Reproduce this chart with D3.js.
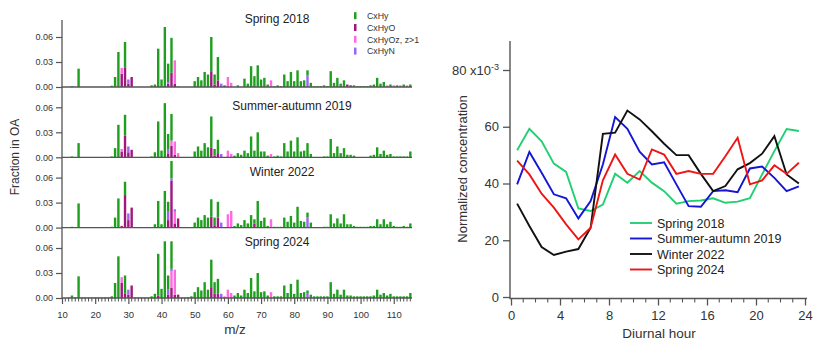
<!DOCTYPE html>
<html>
<head>
<meta charset="utf-8">
<script src="https://cdn.jsdelivr.net/npm/d3@7"></script>
<style>
  html, body { margin: 0; padding: 0; background: #fff; }
  svg { display: block; font-family: "Liberation Sans", Arial, sans-serif; }
</style>
</head>
<body>
<svg id="chart" width="813" height="341"></svg>
<script>
// ---------------- DATA ----------------
// Left: mass spectra. Rows: [m/z, CxHy, CxHyO, CxHyOz (z>1), CxHyN]
const familyNames = ["CxHyO", "CxHyOz, z>1", "CxHyN", "CxHy"]; // stacking order bottom -> top
const legendNames = ["CxHy", "CxHyO", "CxHyOz, z>1", "CxHyN"];
const panelTitles = ["Spring 2018", "Summer-autumn 2019", "Winter 2022", "Spring 2024"];

const spring2018Spec = [
  [13,.001],[15,.022],[25,.0015],[26,.012],[27,.042],[28,0,.016,.007],[29,.031,.023],[30,0,.004,0,.005],[31,0,.012],
  [37,.002],[38,.003],[39,.046],[40,.009],[41,.072],[42,.022,.004,0,.002],[43,.042,.017],[44,0,.004,.028],[45,0,0,.001],
  [50,.007],[51,.012],[52,.008],[53,.018],[54,.015],[55,.041,.019],[56,.012,.003],[57,.028,.008],[58,0,0,0,.004],[59,.001,.001],
  [60,0,0,.012],[61,0,0,.005],[63,.002],[65,.010],[66,.004],[67,.025],[68,.013],[69,.026],[70,.009],[71,.011],[72,.003],
  [73,0,0,.008],[74,.001],[75,.002],[76,.001],[77,.015],[78,.007],[79,.018],[80,.007],[81,.020],[82,.007],[83,.008],
  [84,.006,0,0,.014],[85,.005],[86,.001],[87,.001],[88,.001],[89,.002],[90,.001],[91,.019],[92,.005],[93,.011],[94,.004],
  [95,.008],[96,0,.003],[97,0,.002],[98,.002],[99,.001],[100,.001],[101,.001],[102,.001],[103,.002],[104,.003],[105,.011],
  [106,.004],[107,.006],[108,0,0,.002],[109,.003],[110,0,0,.002],[111,.002],[112,0,0,.002],[113,.003],[114,0,0,.002],[115,.003]
];
const summerAutumn2019Spec = [
  [13,.001],[15,.017],[25,.001],[26,.011],[27,.039],[28,0,.007,.003],[29,.025,.026],[30,0,.006,0,.007],[31,0,.009],
  [37,.001],[38,.006],[39,.043],[40,.008],[41,.065],[42,.018,.004,0,.006],[43,.032,.014,.006],[44,0,.003,.016],[45,0,0,.005],
  [50,.007],[51,.013],[52,.008],[53,.017],[54,.012],[55,.037,.012],[56,.008,.002],[57,.016,.005],[58,0,0,0,.004],
  [60,0,0,.008],[61,0,0,.004],[62,.002],[63,.005],[64,.003],[65,.008],[66,.005],[67,.025],[68,.008],[69,.030],[70,.007],
  [71,.007],[72,.002],[73,0,0,.004],[74,.001],[75,.002],[76,.001],[77,.017],[78,.007],[79,.020],[80,.007],[81,.024],
  [82,.007],[83,.008],[84,.017],[85,.004],[89,.001],[90,.001],[91,.022],[92,.005],[93,.013],[94,.005],[95,.011],
  [96,.003],[97,.003],[98,.002],[103,.002],[104,.003],[105,.012],[106,.004],[107,.008],[108,.003],[109,.004],
  [110,.001],[111,.001],[112,.001],[113,.001],[114,.001],[115,.007]
];
const winter2022Spec = [
  [13,.001],[15,.029],[25,.001],[26,.012],[27,.035],[28,0,.002],[29,.016,.039],[30,0,.009,0,.008],[31,0,.024],
  [38,.004],[39,.032],[40,.004],[41,.044],[42,.012,.009,0,.010],[43,.021,.056,0,.003],[44,0,.005,.014,.003],[45,0,.011],
  [50,.006],[51,.012],[52,.009],[53,.015],[54,.012],[55,.021,.013],[56,.010,.002],[57,.019,.012],[58,0,0,0,.006],
  [60,0,0,.016],[61,0,0,.020],[62,.002],[63,.005],[64,.003],[65,.009],[66,.005],[67,.015],[68,.005,.005],[69,.032],
  [70,.008],[71,.012],[72,.002],[73,0,0,.010],[74,.001],[75,.001],[76,.001],[77,.012],[78,.007],[79,.014],[80,.006],
  [81,.025],[82,.008],[83,.007],[84,.006,0,0,.012],[85,.006],[89,.001],[90,.001],[91,.016],[92,.005],[93,.011],
  [94,.005],[95,.016],[96,.004],[97,.004],[98,.002],[99,.001],[100,.001],[101,.001],[102,.001],[103,.002],[104,.002],
  [105,.010],[106,.004],[107,.010],[108,.004],[109,.007],[110,.002],[111,.001],[112,.001],[113,.002],[114,.001],[115,.005]
];
const spring2024Spec = [
  [12,0,0,.001],[13,.003],[14,0,0,.001],[15,.026],[16,0,0,.001],[17,0,0,.001],[18,0,0,.001],[19,0,0,.001],[20,0,0,.001],
  [21,0,0,.001],[22,0,0,.001],[23,0,0,.001],[24,0,0,.001],[25,.002],[26,.018],[27,.050],[28,0,.018,.007],[29,.022,.005],
  [30,0,.004,0,.006],[31,0,.015],[32,0,0,.001],[33,0,0,.001],[34,0,0,.001],[35,0,0,.001],[36,0,0,.001],[37,.002],
  [38,.005],[39,.050,.003],[40,.011],[41,.068],[42,.017,.004,0,.006],[43,.033,.012,.020,.003],[44,0,.004,.030],
  [45,0,.004],[46,0,0,.001],[47,0,0,.001],[48,.001],[49,.002],[50,.007],[51,.013],[52,.009],[53,.019],[54,.010],
  [55,.033,.013],[56,.014,.005],[57,.018,.005],[58,0,0,0,.005],[59,0,0,.002],[60,0,0,.010],[61,0,0,.006],[62,.003],
  [63,.006],[64,.003],[65,.010],[66,.006],[67,.024],[68,.008],[69,.030],[70,.007],[71,.008],[72,.003],[73,0,0,.007],
  [74,.002],[75,.002],[76,.002],[77,.015],[78,.006],[79,.017],[80,.005],[81,.022],[82,.006],[83,.007],[84,.003,0,0,.006],
  [85,.004],[86,.002],[87,.002],[88,.002],[89,.002],[90,.002],[91,.019],[92,.005],[93,.010],[94,.004],[95,.010],
  [96,.003],[97,.003],[98,.002],[99,.002],[100,.002],[101,.002],[102,.002],[103,.002],[104,.003],[105,.010],[106,.004],
  [107,.006],[108,.003],[109,.005],[110,.002],[111,.002],[112,.002],[113,.002],[114,.002],[115,.006]
];
const spectra = [spring2018Spec, summerAutumn2019Spec, winter2022Spec, spring2024Spec];
const fracTicks = [0, 0.03, 0.06];
const mzTicks = [10, 20, 30, 40, 50, 60, 70, 80, 90, 100, 110];

// Right: diurnal cycles (normalized concentration, x10^-3), hours 0.5 ... 23.5
const hours = [0.5,1.5,2.5,3.5,4.5,5.5,6.5,7.5,8.5,9.5,10.5,11.5,12.5,13.5,14.5,15.5,16.5,17.5,18.5,19.5,20.5,21.5,22.5,23.5];
const spring2018Diurnal = [51.7,59.3,54.9,47.0,44.1,31.2,30.3,32.6,43.4,40.3,44.4,40.3,37.3,32.9,33.8,34.0,34.8,33.2,33.6,34.8,43.2,51.4,59.2,58.5];
const summerAutumn2019Diurnal = [39.7,51.1,43.8,36.2,34.8,27.7,33.8,46.7,63.4,59.3,51.2,46.7,47.5,39.7,32.0,31.8,37.3,37.6,36.9,45.3,46.0,42.0,37.3,39.0];
const winter2022Diurnal = [32.9,25.0,17.6,14.8,16.0,16.9,24.4,57.5,57.9,65.7,62.6,58.4,54.0,50.0,50.0,43.4,37.3,39.1,45.0,47.2,50.5,56.7,43.2,40.0];
const spring2024Diurnal = [48.1,43.2,36.4,31.5,25.6,20.3,24.4,41.1,50.2,43.4,41.4,52.0,50.2,43.4,44.4,43.4,43.4,49.6,56.1,39.7,41.1,46.4,43.4,47.3];
const diurnalNames = ["Spring 2018", "Summer-autumn 2019", "Winter 2022", "Spring 2024"];
const concTicks = [0, 20, 40, 60, 80];
const hourTicks = [0, 4, 8, 12, 16, 20, 24];

// ---------------- STYLE ----------------
const famColor = { "CxHy": "#1f9e1f", "CxHyO": "#a0177e", "CxHyOz, z>1": "#ff6ae0", "CxHyN": "#9a66f2" };
const lineColors = ["#21cf72", "#1515d6", "#111111", "#ee1515"];
const axisColor = "#555";
const textColor = "#333";

const svg = d3.select("#chart");

// ---------------- LEFT PANEL ----------------
const x = d3.scaleLinear().domain([10, 115.5]).range([62, 412]);
const bases = [87, 157.3, 227.6, 298];
const barW = 2.4;

spectra.forEach((rows, pi) => {
  const y = d3.scaleLinear().domain([0, 0.06]).range([bases[pi], bases[pi] - 50]);
  const g = svg.append("g");
  const table = rows.map(r => ({
    mz: r[0],
    "CxHy": r[1] || 0,
    "CxHyO": r[2] || 0,
    "CxHyOz, z>1": r[3] || 0,
    "CxHyN": r[4] || 0
  }));
  const stack = d3.stack().keys(familyNames)(table);
  stack.forEach(layer => {
    g.append("g").attr("fill", famColor[layer.key])
      .selectAll("rect").data(layer.filter(d => d[1] - d[0] > 0)).join("rect")
      .attr("x", d => x(d.data.mz) - barW / 2)
      .attr("width", barW)
      .attr("y", d => y(d[1]))
      .attr("height", d => Math.max(0.6, y(d[0]) - y(d[1])));
  });
  // baseline
  g.append("line").attr("x1", 62).attr("x2", 412).attr("y1", bases[pi]).attr("y2", bases[pi])
    .attr("stroke", axisColor).attr("stroke-width", 1.3);
  // y axis ticks
  const ya = g.append("g").attr("transform", "translate(62,0)")
    .call(d3.axisLeft(y).tickValues(fracTicks).tickFormat(d3.format(".2f")).tickSize(6).tickPadding(3));
  ya.select(".domain").remove();
  ya.selectAll("line").attr("stroke", axisColor).attr("stroke-width", 1.2);
  ya.selectAll("text").attr("fill", textColor).style("font-size", "9px");
  // title
  const titleY = [23, 110, 176, 246][pi];
  const titleX = [277, 292, 282, 277][pi];
  g.append("text").attr("x", titleX).attr("y", titleY).attr("text-anchor", "middle")
    .attr("fill", "#222").style("font-size", "12px").text(panelTitles[pi]);

  if (pi === 3) {
    const xa = g.append("g").attr("transform", `translate(0,${bases[pi]})`)
      .call(d3.axisBottom(x).tickValues(mzTicks).tickSize(6).tickPadding(7));
    xa.select(".domain").remove();
    xa.selectAll("line").attr("stroke", axisColor).attr("stroke-width", 1.2);
    xa.selectAll("text").attr("fill", textColor).style("font-size", "9.5px");
    const minor = d3.range(11, 116).filter(v => v % 10 !== 0);
    g.append("g").selectAll("line").data(minor).join("line")
      .attr("x1", d => x(d)).attr("x2", d => x(d))
      .attr("y1", bases[pi]).attr("y2", bases[pi] + 3.5)
      .attr("stroke", axisColor).attr("stroke-width", 1);
  }
});
// continuous left axis line
svg.append("line").attr("x1", 62).attr("x2", 62).attr("y1", 20).attr("y2", 298)
  .attr("stroke", axisColor).attr("stroke-width", 1.3);

// y label
svg.append("text").attr("transform", "translate(19,157) rotate(-90)").attr("text-anchor", "middle")
  .attr("fill", textColor).style("font-size", "12px").text("Fraction in OA");
// x label
svg.append("text").attr("x", 235).attr("y", 334).attr("text-anchor", "middle")
  .attr("fill", textColor).style("font-size", "13.5px").text("m/z");

// legend
const lg = svg.append("g");
legendNames.forEach((n, i) => {
  const cy = 15.7 + i * 11.8;
  lg.append("rect").attr("x", 354).attr("y", cy - 3.5).attr("width", 2.5).attr("height", 7).attr("fill", famColor[n]);
  lg.append("text").attr("x", 367).attr("y", cy + 3.3).attr("fill", textColor).style("font-size", "8.8px").text(n);
});

// ---------------- RIGHT PANEL ----------------
const xr = d3.scaleLinear().domain([0, 24]).range([511, 805]);
const yr = d3.scaleLinear().domain([0, 80]).range([297, 70]);
const rg = svg.append("g");

// axes lines
rg.append("line").attr("x1", 510).attr("x2", 510).attr("y1", 41).attr("y2", 298.5)
  .attr("stroke", axisColor).attr("stroke-width", 1.4);
rg.append("line").attr("x1", 509.5).attr("x2", 807).attr("y1", 298.5).attr("y2", 298.5)
  .attr("stroke", axisColor).attr("stroke-width", 1.4);

const yax = rg.append("g").attr("transform", "translate(510,0)")
  .call(d3.axisLeft(yr).tickValues(concTicks).tickSize(7).tickPadding(4));
yax.select(".domain").remove();
yax.selectAll("line").attr("stroke", axisColor).attr("stroke-width", 1.3);
yax.selectAll("text").attr("fill", textColor).style("font-size", "13px");
yax.selectAll(".tick").filter(d => d === 80).select("text").each(function () {
  const t = d3.select(this);
  t.text("80 x10");
  t.append("tspan").attr("dy", "-0.5em").style("font-size", "9px").text("-3");
});

const xax = rg.append("g").attr("transform", "translate(0,298.5)")
  .call(d3.axisBottom(xr).tickValues(hourTicks).tickSize(7).tickPadding(5));
xax.select(".domain").remove();
xax.selectAll("line").attr("stroke", axisColor).attr("stroke-width", 1.3);
xax.selectAll("text").attr("fill", textColor).style("font-size", "13px");
rg.append("g").selectAll("line").data(d3.range(1, 24).filter(v => v % 4 !== 0)).join("line")
  .attr("x1", d => xr(d)).attr("x2", d => xr(d)).attr("y1", 298.5).attr("y2", 302.5)
  .attr("stroke", axisColor).attr("stroke-width", 1.1);

// lines
const series = [spring2018Diurnal, summerAutumn2019Diurnal, winter2022Diurnal, spring2024Diurnal];
const lineGen = d3.line().x((d, i) => xr(hours[i])).y(d => yr(d));
series.forEach((s, i) => {
  rg.append("path").datum(s).attr("d", lineGen).attr("fill", "none")
    .attr("stroke", lineColors[i]).attr("stroke-width", 1.9).attr("stroke-linejoin", "miter");
});

// labels
rg.append("text").attr("transform", "translate(467,169) rotate(-90)").attr("text-anchor", "middle")
  .attr("fill", textColor).style("font-size", "13px").text("Normalized concentration");
rg.append("text").attr("x", 659).attr("y", 338).attr("text-anchor", "middle")
  .attr("fill", textColor).style("font-size", "13.5px").text("Diurnal hour");

// legend
diurnalNames.forEach((n, i) => {
  const cy = 223 + i * 15.5;
  rg.append("line").attr("x1", 630).attr("x2", 652).attr("y1", cy).attr("y2", cy)
    .attr("stroke", lineColors[i]).attr("stroke-width", 1.9);
  rg.append("text").attr("x", 657).attr("y", cy + 4.5).attr("fill", "#222")
    .style("font-size", "12.5px").text(n);
});
</script>
</body>
</html>
